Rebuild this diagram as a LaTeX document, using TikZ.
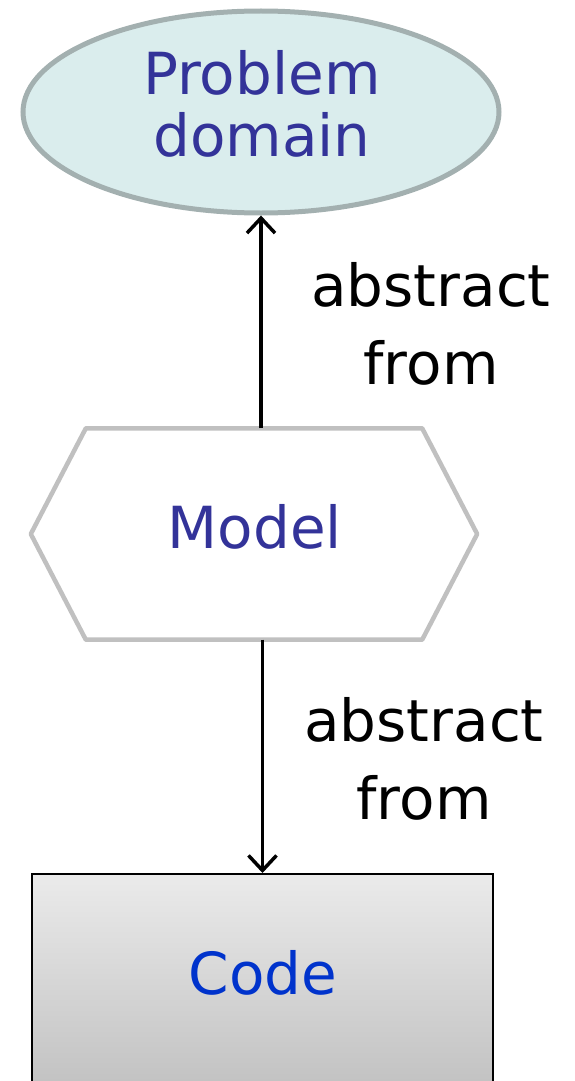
\documentclass[tikz,border=0pt]{standalone}
\usepackage{fontspec}
\setmainfont{DejaVu Sans}
\usetikzlibrary{shapes.geometric,arrows.meta}
\definecolor{ellfill}{HTML}{DAEDED}
\definecolor{elldraw}{HTML}{A3B0B0}
\definecolor{hexdraw}{HTML}{C0C0C0}
\definecolor{darkblue}{HTML}{333399}
\definecolor{codeblue}{HTML}{0033CC}
\tikzset{
  big/.style={font=\fontsize{58}{62}\selectfont},
  lbl/.style={font=\fontsize{58}{78}\selectfont, align=center, text=black},
  arr/.style={line width=3.5pt, -{Straight Barb[length=15pt,width=28pt,line width=3.5pt]}},
}
\begin{document}
\begin{tikzpicture}[x=1pt,y=-1pt]
\clip (0,0) rectangle (574,1081);
\useasboundingbox (0,0) rectangle (574,1081);
% Problem domain ellipse
\node[ellipse, draw=elldraw, fill=ellfill, line width=5pt,
      minimum width=476pt, minimum height=202pt] (problem) at (261,112) {};
\node[big, text=darkblue, align=center] (problemtext) at (262,104) {Problem\\domain};
% Model hexagon
\node[minimum width=446pt, minimum height=211pt, inner sep=0pt] (model) at (254,534) {};
\draw[hexdraw, line width=4.5pt, line join=round]
  (model.west) -- ([xshift=55pt]model.north west) -- ([xshift=-55pt]model.north east)
  -- (model.east) -- ([xshift=-55pt]model.south east) -- ([xshift=55pt]model.south west) -- cycle;
\node[big, text=darkblue] (modeltext) at (255,527) {Model};
% Code rectangle
\node[rectangle, draw=black, line width=1.8pt, top color=black!8, bottom color=black!26,
      minimum width=461pt, minimum height=240pt, anchor=north] (code) at (262.5,873) {};
\node[big, text=codeblue] (codetext) at (263,973) {Code};
% Connectors
\draw[arr] (model.north -| problem.south) -- (problem.south);
\draw[arr] (model.south -| code.north) -- (code.north);
% Labels
\node[lbl] (lbl1) at (431,324) {abstract\\from};
\node[lbl] (lbl2) at (424,759) {abstract\\from};
\end{tikzpicture}
\end{document}
